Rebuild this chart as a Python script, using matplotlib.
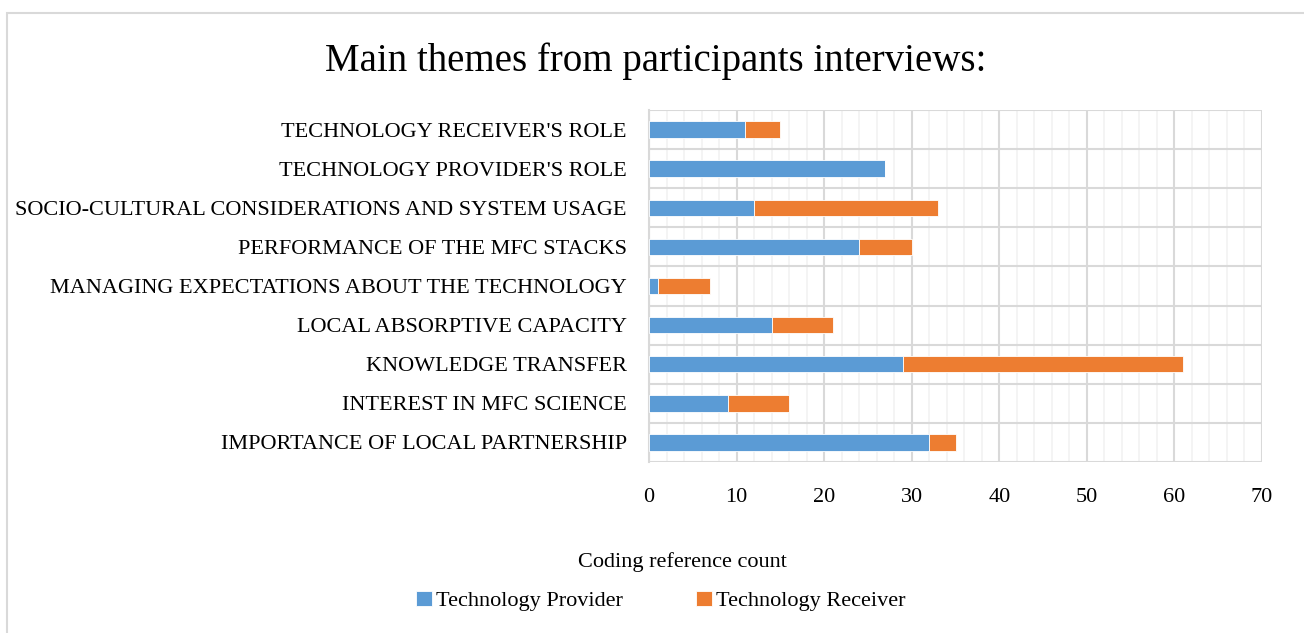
import matplotlib.pyplot as plt
from matplotlib.patches import Rectangle
from matplotlib.ticker import MultipleLocator

plt.rcParams['font.family'] = ['Liberation Serif', 'DejaVu Serif']

# Data (bottom to top)
themes = ["IMPORTANCE OF LOCAL PARTNERSHIP", "INTEREST IN MFC SCIENCE",
          "KNOWLEDGE TRANSFER", "LOCAL ABSORPTIVE CAPACITY",
          "MANAGING EXPECTATIONS ABOUT THE TECHNOLOGY",
          "PERFORMANCE OF THE MFC STACKS",
          "SOCIO-CULTURAL CONSIDERATIONS AND SYSTEM USAGE",
          "TECHNOLOGY PROVIDER'S ROLE", "TECHNOLOGY RECEIVER'S ROLE"]
provider = [32, 9, 29, 14, 1, 24, 12, 27, 11]
receiver = [3, 7, 32, 7, 6, 6, 21, 0, 4]

blue = '#5b9bd5'
orange = '#ed7d31'

fig = plt.figure(figsize=(13.04, 6.33), dpi=100)
ax = fig.add_axes([649/1304, 1 - 462/633, (1262-649)/1304, (462-110)/633])

y = range(len(themes))
ax.barh(y, provider, height=0.42, color=blue, label='Technology Provider',
        edgecolor='white', linewidth=0.6, zorder=3)
ax.barh(y, receiver, left=provider, height=0.42, color=orange,
        label='Technology Receiver', edgecolor='white', linewidth=0.6, zorder=3)

ax.set_xlim(0, 70)
ax.set_ylim(-0.5, len(themes) - 0.5)
ax.xaxis.set_major_locator(MultipleLocator(10))
ax.xaxis.set_minor_locator(MultipleLocator(2))
ax.set_yticks(list(y))
ax.set_yticklabels(themes, fontsize=16)
ax.set_yticks([i - 0.5 for i in range(len(themes) + 1)], minor=True)
ax.tick_params(axis='x', labelsize=16, length=0, pad=19, which='both')
ax.tick_params(axis='y', length=0, pad=16, which='both')

ax.grid(axis='x', which='major', color='#d9d9d9', linewidth=1.5, zorder=0)
ax.grid(axis='x', which='minor', color='#f2f2f2', linewidth=1.2, zorder=0)
ax.grid(axis='y', which='minor', color='#d9d9d9', linewidth=1.5, zorder=0)
for s in ['top', 'right', 'bottom']:
    ax.spines[s].set_visible(False)
ax.spines['left'].set_color('#d9d9d9')
ax.spines['left'].set_linewidth(1.5)

fig.text(682/1304, 1 - 562/633, 'Coding reference count',
         ha='center', va='center', fontsize=16)

fig.text(656/1304, 1 - 61/633, 'Main themes from participants interviews:',
         ha='center', va='center', fontsize=28)

fig.legend(loc='center', bbox_to_anchor=(661/1304, 1 - 601/633), ncol=2,
           frameon=False, fontsize=16, handlelength=0.7, handleheight=0.7,
           handletextpad=0.2, columnspacing=3.3)

fig.patches.append(Rectangle((7/1304, -0.1), 1.2, 1 - 13/633 + 0.1,
                             transform=fig.transFigure, fill=False,
                             edgecolor='#d9d9d9', linewidth=1.5))

fig.savefig('out.png', dpi=100)
